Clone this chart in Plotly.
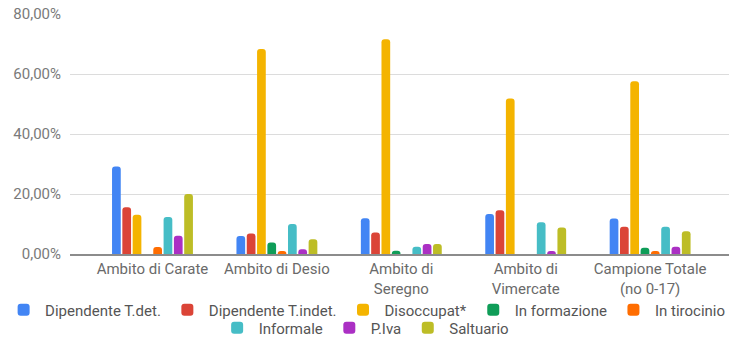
import plotly.graph_objects as go

# Categories (x axis)
categories = [
    "Ambito di Carate",
    "Ambito di Desio",
    "Ambito di<br>Seregno",
    "Ambito di<br>Vimercate",
    "Campione Totale<br>(no 0-17)",
]

# Percentages per series, one value per category
dip_tdet = [29.2, 6.0, 11.9, 13.3, 11.8]
dip_tindet = [15.6, 6.8, 7.2, 14.6, 9.1]
disoccupat = [13.1, 68.3, 71.6, 51.8, 57.6]
in_formazione = [0.0, 3.8, 1.1, 0.0, 2.1]
in_tirocinio = [2.3, 1.0, 0.0, 0.0, 1.0]
informale = [12.3, 10.0, 2.4, 10.6, 9.1]
p_iva = [6.1, 1.6, 3.3, 1.0, 2.4]
saltuario = [20.0, 4.9, 3.3, 8.8, 7.6]

series = [
    ("Dipendente T.det.", dip_tdet, "#4285F4", "legend"),
    ("Dipendente T.indet.", dip_tindet, "#DB4437", "legend"),
    ("Disoccupat*", disoccupat, "#F4B400", "legend"),
    ("In formazione", in_formazione, "#0F9D58", "legend"),
    ("In tirocinio", in_tirocinio, "#FF6D01", "legend"),
    ("Informale", informale, "#46BDC6", "legend2"),
    ("P.Iva", p_iva, "#AB30C4", "legend2"),
    ("Saltuario", saltuario, "#BDBD26", "legend2"),
]

fig = go.Figure()
for name, vals, color, leg in series:
    fig.add_trace(go.Bar(
        x=categories, y=vals, name=name,
        marker=dict(color=color, line=dict(width=0)),
        legend=leg,
        hovertemplate="%{y:.2f}%<extra>" + name + "</extra>",
    ))

font_family = "Roboto, Arial, sans-serif"
legend_font = dict(size=15, color="#555555")

fig.update_layout(
    width=729, height=338,
    margin=dict(l=70, r=0, t=14, b=84, autoexpand=False),
    paper_bgcolor="white", plot_bgcolor="white",
    barmode="group",
    bargap=0.337, bargroupgap=0.155,
    barcornerradius=3,
    separators=",.",
    font=dict(family=font_family, size=15, color="#616161"),
    xaxis=dict(
        type="category",
        range=[-0.663, 4.634],
        showgrid=False,
        showline=True, linecolor="#8c8c8c", linewidth=2,
        ticks="", tickfont=dict(size=15, color="#6a6a6a"),
        ticklabelstandoff=0,
    ),
    yaxis=dict(
        range=[0, 80], dtick=20,
        tickformat=".2f", ticksuffix="%",
        showgrid=True, gridcolor="#dcdcdc", gridwidth=1,
        zeroline=False, showline=False, ticks="",
        tickfont=dict(size=15, color="#7a7a7a"),
        ticklabelstandoff=8,
    ),
    # first legend row starts in the left margin so all five entries fit on one line
    legend=dict(
        orientation="h", xref="paper", yref="paper",
        x=-0.103, xanchor="left", y=-0.233, yanchor="middle",
        font=legend_font, bgcolor="rgba(0,0,0,0)", itemclick=False,
        tracegroupgap=0, itemwidth=33,
    ),
    legend2=dict(
        orientation="h", xref="paper", yref="paper",
        x=0.221, xanchor="left", y=-0.308, yanchor="middle",
        font=legend_font, bgcolor="rgba(0,0,0,0)", itemclick=False,
        tracegroupgap=0, itemwidth=33,
    ),
)

fig.write_html("out.html")
